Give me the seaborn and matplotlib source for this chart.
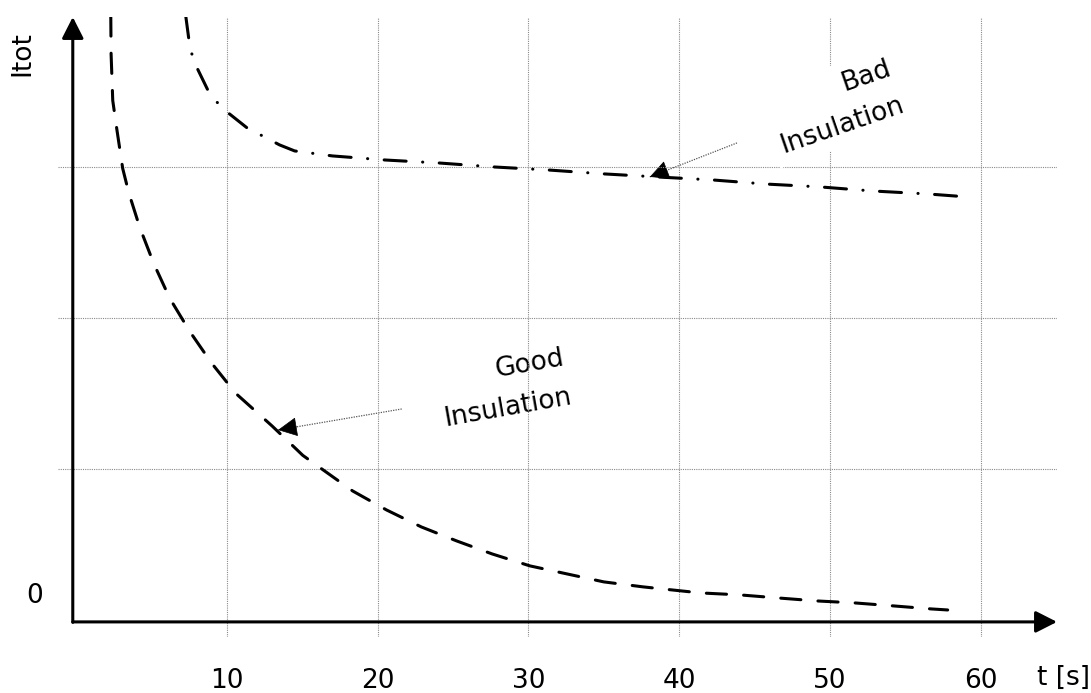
import matplotlib
matplotlib.use("Agg")
import matplotlib.pyplot as plt
import seaborn as sns
import numpy as np
import pandas as pd

# ---- data ----
good_t = [2.31, 2.33, 2.44, 2.71, 3.10, 3.50, 4.23, 5.16, 6.22, 7.55, 9.00, 10.6, 13.0,
          15.04, 16.3, 18.35, 20.6, 22.9, 25.25, 27.6, 30.1, 32.55, 35.0, 37.6, 41.4,
          44.0, 46.5, 49.1, 51.6, 54.2, 56.7, 57.8]
good_i = [4.00, 3.75, 3.44, 3.25, 2.99, 2.83, 2.60, 2.36, 2.13, 1.91, 1.70, 1.50, 1.285,
          1.09, 1.00, 0.854, 0.728, 0.616, 0.523, 0.437, 0.358, 0.305, 0.252, 0.219, 0.179,
          0.166, 0.146, 0.126, 0.113, 0.093, 0.073, 0.066]
bad_t = [7.28, 7.48, 7.68, 8.01, 8.74, 9.34, 10.07, 11.33, 13.5, 14.5, 17.0, 20.5, 24.1,
         27.7, 31.3, 35.0, 38.5, 42.2, 45.7, 49.3, 52.8, 56.5, 59.3]
bad_i = [4.00, 3.85, 3.75, 3.66, 3.51, 3.43, 3.36, 3.26, 3.146, 3.106, 3.073, 3.046, 3.026,
         3.00, 2.98, 2.954, 2.934, 2.914, 2.887, 2.868, 2.841, 2.821, 2.80]
x_ticks = [10, 20, 30, 40, 50, 60]
x_tick_labels = ["10", "20", "30", "40", "50", "60"]
y_grid = [1, 2, 3]
x_label = "t [s]"
y_label = "Itot"
y_zero_label = "0"
bad_text = "Bad\nInsulation"
good_text = "Good\nInsulation"

# annotation anchor points (data coords)
bad_text_xy = (50.39, 3.399)
good_text_xy = (28.39, 1.531)
bad_arrow_from = (43.83, 3.159)
bad_arrow_to = (38.05, 2.934)
good_arrow_from = (21.6, 1.397)
good_arrow_to = (13.4, 1.258)

# ---- style ----
sns.set_theme(style="white")
plt.rcParams["font.family"] = ["DejaVu Sans"]
plt.rcParams["text.color"] = "black"
plt.rcParams["xtick.color"] = "black"
plt.rcParams["ytick.color"] = "black"
FS = 19

fig = plt.figure(figsize=(10.91, 6.93), dpi=100)
W, H = 1091, 693
ax = fig.add_axes([58 / W, (H - 637) / H, (1057 - 58) / W, (637 - 17) / H])
ax.set_xlim(-1.19, 65.05)
ax.set_ylim(-0.113, 3.993)
for s in ax.spines.values():
    s.set_visible(False)

# grid
ax.set_xticks(x_ticks)
ax.set_xticklabels(x_tick_labels, fontsize=FS, color="black")
ax.set_yticks(y_grid)
ax.set_yticklabels([])
ax.tick_params(axis="both", length=0)
ax.tick_params(axis="x", pad=22)
ax.grid(True, linestyle=(0, (1, 1)), color="#8a8a8a", linewidth=0.8)
ax.set_axisbelow("line")

# curves
df_good = pd.DataFrame({"t": good_t, "I": good_i})
df_bad = pd.DataFrame({"t": bad_t, "I": bad_i})
sns.lineplot(data=df_good, x="t", y="I", ax=ax, color="black", linewidth=2.2,
             estimator=None, sort=False, zorder=4)
ln_good = ax.lines[-1]
ln_good.set_dashes((6.6, 5.6))
ln_good.set_dash_capstyle("round")
sns.lineplot(data=df_bad, x="t", y="I", ax=ax, color="black", linewidth=2.2,
             estimator=None, sort=False, zorder=4)
ln_bad = ax.lines[-1]
ln_bad.set_dashes((7.2, 5.4, 0.05, 5.4))
ln_bad.set_dash_capstyle("round")
ax.set_xlabel("")
ax.set_ylabel("")

# axis arrows
axis_y = -0.013
axis_x = -0.21
ax.annotate("", xy=(65.05, axis_y), xytext=(axis_x, axis_y),
            arrowprops=dict(arrowstyle="-|>,head_length=0.65,head_width=0.33",
                            mutation_scale=20, lw=2.2, color="black",
                            shrinkA=0, shrinkB=0),
            annotation_clip=False, zorder=5)
ax.annotate("", xy=(axis_x, 3.993), xytext=(axis_x, axis_y - 0.003),
            arrowprops=dict(arrowstyle="-|>,head_length=0.65,head_width=0.33",
                            mutation_scale=20, lw=2.2, color="black",
                            shrinkA=0, shrinkB=0),
            annotation_clip=False, zorder=5)

# axis texts
ax.text(63.71, -0.384, x_label, fontsize=FS, ha="left", va="center", clip_on=False)
ax.text(-3.53, 3.75, y_label, fontsize=FS, ha="center", va="center", rotation=90,
        clip_on=False)
ax.text(-2.73, 0.159, y_zero_label, fontsize=FS, ha="center", va="center", clip_on=False)

# annotation arrows (thin dotted line + filled head)
def pointer(p_from, p_to, z):
    ax.plot([p_from[0], p_to[0]], [p_from[1], p_to[1]], color="#555555",
            linestyle=(0, (1, 1)), linewidth=0.9, zorder=z)
    f = 0.15
    back = (p_to[0] + f * (p_from[0] - p_to[0]), p_to[1] + f * (p_from[1] - p_to[1]))
    ax.annotate("", xy=p_to, xytext=back,
                arrowprops=dict(arrowstyle="-|>,head_length=0.7,head_width=0.35",
                                mutation_scale=18, lw=0.5, color="black",
                                shrinkA=0, shrinkB=0), zorder=z)

pointer(bad_arrow_from, bad_arrow_to, 1.0)
pointer(good_arrow_from, good_arrow_to, 1.0)

ax.text(*bad_text_xy, bad_text, fontsize=FS, rotation=19, ha="center", va="center",
        multialignment="right", linespacing=1.64, rotation_mode="anchor", zorder=3,
        bbox=dict(boxstyle="square,pad=0.3", facecolor="white", edgecolor="none"))
ax.text(*good_text_xy, good_text, fontsize=FS, rotation=10, ha="center", va="center",
        multialignment="right", linespacing=1.64, rotation_mode="anchor", zorder=1.2)

fig.savefig("out.png", dpi=100)
